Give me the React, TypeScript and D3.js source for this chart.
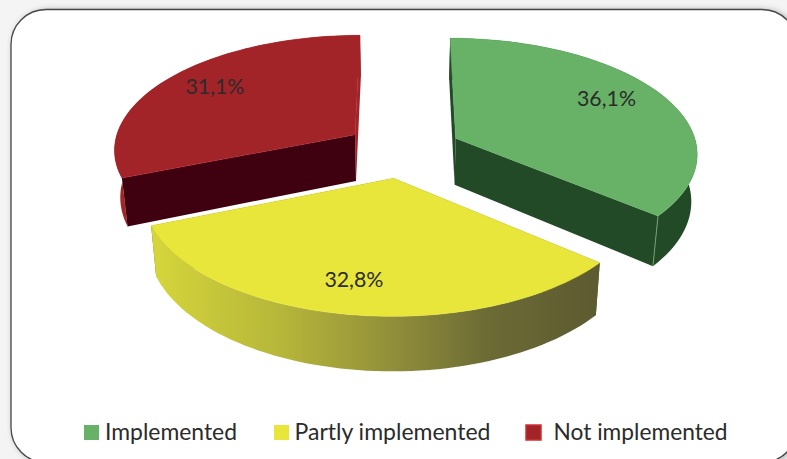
import React from "react";
import * as d3 from "d3";

// Share of answers per implementation status
const categories = ["Implemented", "Partly implemented", "Not implemented"];
const shares = [36.1, 32.8, 31.1];
const shareLabels = ["36,1%", "32,8%", "31,1%"];

const topColors = ["#67b266", "#e8e63a", "#a32428"];
const cutColors = ["#234a27", "#5e5c30", "#3f0010"];
const wallColors = ["#234a27", "url(#rimShade)", "#a32428"];
const backCutColors = ["#234a27", "#5e5c30", "#a32428"];

const W = 787;
const H = 459;

// Tilted-disc projection: world units on the pie plane, perspective by distance
const CX = 403;
const CY = 150;
const SCALE_X = 242;
const SCALE_Y = 114.5;
const PERSPECTIVE = 0.118;
const EXPLODE = 0.243;
const DEPTH = 47;
const BASE_SHRINK = 0.98;

const LABEL_RADIUS = 0.7;
const labelNudges = [
  [6, -9],
  [-9, 9],
  [-10, -8],
];

const xScale = d3.scaleLinear().domain([0, 1]).range([0, SCALE_X]);
const yScale = d3.scaleLinear().domain([0, 1]).range([0, -SCALE_Y]);

type Pt = [number, number];

function project(angle: number, r: number, mid: number, base: boolean): Pt {
  const X = r * Math.sin(angle) + EXPLODE * Math.sin(mid);
  const Z = r * Math.cos(angle) + EXPLODE * Math.cos(mid);
  const w = 1 + PERSPECTIVE * Z;
  const dx = xScale(X / w);
  const dy = yScale(Z / w);
  return base
    ? [CX + dx * BASE_SHRINK, CY + dy + DEPTH / w]
    : [CX + dx, CY + dy];
}

const pieLayout = d3.pie<number>().sort(null).value((d) => d);
const arcs = pieLayout(shares);
const line = d3.line();

function rimPoints(a0: number, a1: number, mid: number, base: boolean): Pt[] {
  const n = 64;
  return d3.range(n + 1).map((i) => {
    const t = a0 + ((a1 - a0) * i) / n;
    return project(t, 1, mid, base);
  });
}

const poly = (pts: Pt[]) => (line(pts) ?? "") + "Z";

const legendSwatchX = [84, 274, 526];
const legendTextX = [105, 294.5, 553.5];
const legendWidths = [132, 196, 174];

export default function App() {
  return (
    <svg
      width={W}
      height={H}
      viewBox={`0 0 ${W} ${H}`}
      style={{ position: "absolute", left: 0, top: 0, background: "#f4f4f4" }}
    >
      <defs>
        <linearGradient id="rimShade" gradientUnits="userSpaceOnUse" x1={150} x2={600} y1={0} y2={0}>
          <stop offset="0" stopColor="#d6d63b" />
          <stop offset="0.3" stopColor="#b5b53a" />
          <stop offset="0.55" stopColor="#8f8d3a" />
          <stop offset="0.75" stopColor="#6c6b35" />
          <stop offset="1" stopColor="#5c5a30" />
        </linearGradient>
        <filter id="panelShadow" x="-5%" y="-5%" width="110%" height="110%">
          <feGaussianBlur stdDeviation="3" />
        </filter>
      </defs>

      <rect x={13} y={10} width={786} height={453} rx={35} fill="#555" filter="url(#panelShadow)" opacity={0.55} />
      <rect x={11} y={9.5} width={786} height={453} rx={35} fill="#fff" stroke="#474747" strokeWidth={1.3} />

      {[2, 0, 1].map((idx) => {
        const a = arcs[idx];
        const mid = (a.startAngle + a.endAngle) / 2;
        const topApex = project(0, 0, mid, false);
        const baseApex = project(0, 0, mid, true);
        const topRim = rimPoints(a.startAngle, a.endAngle, mid, false);
        const baseRim = rimPoints(a.startAngle, a.endAngle, mid, true);
        const wall = [...topRim, ...[...baseRim].reverse()];
        const startCut: Pt[] = [topApex, topRim[0], baseRim[0], baseApex];
        const last = topRim.length - 1;
        const endCut: Pt[] = [topApex, topRim[last], baseRim[last], baseApex];
        const topFace = [topApex, ...topRim];
        const backCut = idx === 2 ? endCut : startCut;
        const frontCut = idx === 2 ? startCut : endCut;
        return (
          <g key={categories[idx]}>
            {idx === 1 ? null : <path d={poly(wall)} fill={wallColors[idx]} />}
            <path d={poly(backCut)} fill={backCutColors[idx]} />
            <path d={poly(frontCut)} fill={cutColors[idx]} />
            {idx === 1 ? <path d={poly(wall)} fill={wallColors[idx]} /> : null}
            {idx === 0 && (
              <line
                x1={topRim[last][0]}
                y1={topRim[last][1]}
                x2={baseRim[last][0]}
                y2={baseRim[last][1]}
                stroke="#6f9f70"
                strokeWidth={1}
              />
            )}
            <path d={poly(topFace)} fill={topColors[idx]} stroke={topColors[idx]} strokeWidth={0.5} />
          </g>
        );
      })}

      {arcs.map((a, i) => {
        const mid = (a.startAngle + a.endAngle) / 2;
        const [x, y] = project(mid, LABEL_RADIUS, mid, false);
        return (
          <text
            key={shareLabels[i]}
            x={x + labelNudges[i][0]}
            y={y + labelNudges[i][1]}
            textAnchor="middle"
            dominantBaseline="central"
            fontFamily="Lato, 'Open Sans', sans-serif"
            fontSize={22}
            fill="#2b2b2b"
            textLength={59}
            lengthAdjust="spacingAndGlyphs"
          >
            {shareLabels[i]}
          </text>
        );
      })}

      {categories.map((c, i) => (
        <g key={c}>
          <rect
            x={legendSwatchX[i]}
            y={425}
            width={15}
            height={15}
            fill={topColors[i]}
            stroke={i === 2 ? "#d0302f" : "none"}
            strokeWidth={i === 2 ? 1.5 : 0}
          />
          <text
            x={legendTextX[i]}
            y={440}
            fontFamily="Lato, 'Open Sans', sans-serif"
            fontSize={23}
            fill="#2b2b2b"
            textLength={legendWidths[i]}
            lengthAdjust="spacingAndGlyphs"
          >
            {c}
          </text>
        </g>
      ))}
    </svg>
  );
}
